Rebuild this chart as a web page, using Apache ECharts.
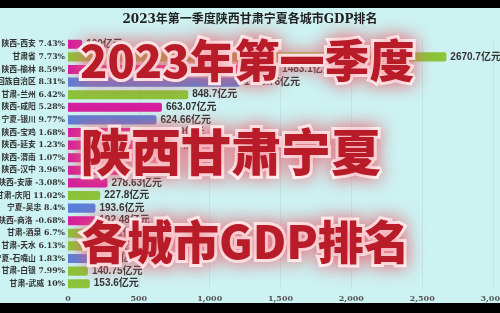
<!DOCTYPE html>
<html><head><meta charset="utf-8">
<script src="https://cdn.jsdelivr.net/npm/echarts@6/dist/echarts.min.js"></script>
<style>html,body{margin:0;padding:0;background:#000;}#c{width:500px;height:313px;}</style>
</head><body><div id="c"></div>
<script>
var cities = ['陕西-西安','甘肃省','陕西-榆林','宁夏回族自治区','甘肃-兰州','陕西-咸阳','宁夏-银川','陕西-宝鸡','陕西-延安','陕西-渭南','陕西-汉中','陕西-安康','甘肃-庆阳','宁夏-吴忠','陕西-商洛','甘肃-酒泉','甘肃-天水','宁夏-石嘴山','甘肃-白银','甘肃-武威'];
var growth = ['7.43%','7.73%','8.59%','8.31%','6.42%','5.28%','9.77%','1.68%','1.23%','1.07%','3.96%','-3.08%','11.02%','8.4%','-0.68%','6.7%','6.13%','1.83%','7.99%','10%'];
var values = [100, 2670.7, 1483.1, 1213.76, 848.7, 663.07, 624.66, 578.99, 660, 500, 430, 278.63, 227.8, 193.6, 192.48, 181.1, 172.5, 165.3, 140.75, 153.6];
var province = ['陕西','甘肃','陕西','宁夏','甘肃','陕西','宁夏','陕西','陕西','陕西','陕西','陕西','甘肃','宁夏','陕西','甘肃','甘肃','宁夏','甘肃','甘肃'];
var provinceColors = {'陕西':'#d41f9e','甘肃':'#8cc43a','宁夏':'#5a7fd8'};
var titleText = '2023年第一季度陕西甘肃宁夏各城市GDP排名';
var overlayLines = ['2023年第一季度','陕西甘肃宁夏','各城市GDP排名'];
var xTicks = [0, 500, 1000, 1500, 2000, 2500, 3000];

var chart = echarts.init(document.getElementById('c'));
var categories = cities.map(function(c,i){return c + ' ' + growth[i];});
var barData = values.map(function(v,i){return {value:v, itemStyle:{color:provinceColors[province[i]]}};});
var overlayTitle = function(txt, x, y, size){
  return {text:txt, left:x, top:y, padding:0, z:20,
    textStyle:{fontSize:size, fontWeight:900, fontFamily:'"Noto Sans CJK SC"', color:'#b81c28',
      textBorderColor:'#ffffff', textBorderWidth:6,
      textShadowColor:'rgba(232,95,110,0.75)', textShadowBlur:18}};
};

chart.setOption({
  backgroundColor:'#cdf2f2',
  animation:false,
  title:[
    {text:titleText, left:'center', top:14, padding:0, textStyle:{fontSize:12, fontWeight:'bold', color:'#222', fontFamily:'"DejaVu Serif", "Noto Sans CJK SC"'}},
    overlayTitle(overlayLines[0], 80, 38, 45),
    overlayTitle(overlayLines[1], 81, 127, 50),
    overlayTitle(overlayLines[2], 81, 219, 46)
  ],
  grid:{left:68, right:7, top:38, bottom:23, containLabel:false, outerBoundsMode:'none'},
  xAxis:{type:'value', min:xTicks[0], max:xTicks[xTicks.length-1], interval:500,
    axisLine:{show:false}, axisTick:{show:false},
    splitLine:{show:true, lineStyle:{color:'rgba(0,0,0,0.05)'}},
    axisLabel:{fontSize:8, fontWeight:'bold', color:'#555', fontFamily:'"DejaVu Serif"', margin:5,
      formatter:function(v){return v.toLocaleString('en-US');}}},
  yAxis:{type:'category', inverse:true, data:categories,
    axisLine:{show:false}, axisTick:{show:false},
    axisLabel:{interval:0, fontSize:7.8, fontWeight:'bold', color:'#333', margin:3, fontFamily:'"DejaVu Serif", "Noto Sans CJK SC"'}},
  series:[{type:'bar', data:barData, barCategoryGap:'28%',
    itemStyle:{borderRadius:[0,2,2,0]},
    label:{show:true, position:'right', distance:4, fontSize:10, fontWeight:'bold', color:'#333',
      fontFamily:'"Liberation Sans", "Noto Sans CJK SC"', formatter:function(p){return p.value + '亿元';}}}],
  graphic:{elements:[
    {type:'rect', id:'blackTop', left:0, top:0, z:200, shape:{width:500, height:8}, style:{fill:'#000'}},
    {type:'rect', id:'blackBottom', left:0, top:303, z:200, shape:{width:500, height:10}, style:{fill:'#000'}}
  ]}
});
</script></body></html>
